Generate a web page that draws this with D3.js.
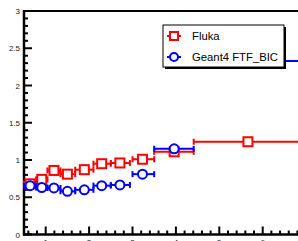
<!DOCTYPE html>
<html>
<head>
<meta charset="utf-8">
<script src="https://cdn.jsdelivr.net/npm/d3@7"></script>
<style>
  body { margin: 0; background: #fff; overflow: hidden; }
  svg { display: block; font-family: "Liberation Sans", Arial, sans-serif; }
</style>
</head>
<body>
<div id="here"></div>
<script>
// bins along x (low edge, high edge, marker position)
const binLo = [0.5, 0.78, 1.04, 1.34, 1.68, 2.1, 2.5, 3.0, 3.5, 4.41];
const binHi = [0.78, 1.04, 1.34, 1.68, 2.1, 2.5, 2.94, 3.5, 4.41, 6.9];
const binMid = [0.64, 0.91, 1.19, 1.5, 1.89, 2.29, 2.71, 3.23, 3.96, 5.66];

// series values
const fluka = [0.68, 0.74, 0.86, 0.81, 0.87, 0.95, 0.96, 1.01, 1.11, 1.245];
const geant = [0.656, 0.63, 0.625, 0.58, 0.60, 0.656, 0.665, 0.81, 1.15, 2.33];

const yTicks = [0, 0.5, 1, 1.5, 2, 2.5, 3];
const xTicks = [1, 2, 3, 4, 5, 6];

const width = 298, height = 241;

const svg = d3.select("#here")
    .append("svg")
    .attr("width", width)
    .attr("height", height);

const xScale = d3.scaleLinear()
    .domain([0.5, 7])
    .range([24, 24 + 6.5 * 43.4]);

const yScale = d3.scaleLinear()
    .domain([0, 3])
    .range([234.5, 11]);

// frame (top line, right is off-screen)
svg.append("line")
    .attr("x1", xScale(0.5)).attr("x2", xScale(7))
    .attr("y1", yScale(3)).attr("y2", yScale(3))
    .attr("stroke", "#000").attr("stroke-width", 2);

// y axis with inward ticks
const yMinor = d3.range(0, 3.001, 0.1);
svg.append("g")
    .selectAll("line")
    .data(yMinor)
    .join("line")
    .attr("x1", xScale(0.5))
    .attr("x2", function(d){
        const major = Math.abs(d * 2 - Math.round(d * 2)) < 1e-6;
        return xScale(0.5) + (major ? 8 : 4);
    })
    .attr("y1", d => yScale(d)).attr("y2", d => yScale(d))
    .attr("stroke", "#000").attr("stroke-width", 2);

svg.append("line")
    .attr("x1", xScale(0.5)).attr("x2", xScale(0.5))
    .attr("y1", yScale(0) + 1).attr("y2", yScale(3) - 1)
    .attr("stroke", "#000").attr("stroke-width", 2.5);

svg.append("g")
    .selectAll("text")
    .data(yTicks)
    .join("text")
    .attr("x", 20)
    .attr("y", d => yScale(d) + 3)
    .attr("text-anchor", "end")
    .attr("font-size", 8)
    .attr("fill", "#222")
    .text(d => d);

// x axis with inward ticks
const xMinor = d3.range(0.6, 7.001, 0.2);
svg.append("g")
    .selectAll("line")
    .data(xMinor)
    .join("line")
    .attr("x1", d => xScale(d)).attr("x2", d => xScale(d))
    .attr("y1", yScale(0))
    .attr("y2", function(d){
        const major = Math.abs(d - Math.round(d)) < 1e-6;
        return yScale(0) - (major ? 8 : 4);
    })
    .attr("stroke", "#000").attr("stroke-width", 2);

svg.append("line")
    .attr("x1", xScale(0.5) - 1).attr("x2", xScale(7))
    .attr("y1", yScale(0)).attr("y2", yScale(0))
    .attr("stroke", "#000").attr("stroke-width", 2.5);

// x tick labels sit mostly below the picture edge, as in the original
svg.append("g")
    .selectAll("text")
    .data(xTicks)
    .join("text")
    .attr("x", d => xScale(d))
    .attr("y", 244.5)
    .attr("text-anchor", "middle")
    .attr("font-size", 8)
    .attr("fill", "#222")
    .text(d => d);

// draw one series: error bars + markers
function drawSeries(vals, color, shape) {
    const g = svg.append("g");
    vals.forEach(function(v, i){
        const y = yScale(v);
        g.append("line")
            .attr("x1", xScale(binLo[i])).attr("x2", xScale(binHi[i]))
            .attr("y1", y).attr("y2", y)
            .attr("stroke", color).attr("stroke-width", 2);
        [binLo[i], binHi[i]].forEach(function(e){
            g.append("line")
                .attr("x1", xScale(e)).attr("x2", xScale(e))
                .attr("y1", y - 3).attr("y2", y + 3)
                .attr("stroke", color).attr("stroke-width", 2);
        });
        if (shape === "square") {
            g.append("rect")
                .attr("x", xScale(binMid[i]) - 4.5).attr("y", y - 4.5)
                .attr("width", 9).attr("height", 9)
                .attr("fill", "#fff")
                .attr("stroke", color).attr("stroke-width", 2);
        } else {
            g.append("circle")
                .attr("cx", xScale(binMid[i])).attr("cy", y)
                .attr("r", 4.5)
                .attr("fill", "#fff")
                .attr("stroke", color).attr("stroke-width", 2);
        }
    });
}

drawSeries(fluka, "#ff0000", "square");
drawSeries(geant, "#0000ff", "circle");

// legend
const legend = svg.append("g");
legend.append("rect")
    .attr("x", 165).attr("y", 27).attr("width", 121).attr("height", 42)
    .attr("fill", "#000");
legend.append("rect")
    .attr("x", 163).attr("y", 25).attr("width", 121).attr("height", 42)
    .attr("fill", "#fff").attr("stroke", "#000").attr("stroke-width", 1);

const entries = [
    { name: "Fluka", color: "#ff0000", shape: "square", y: 36 },
    { name: "Geant4 FTF_BIC", color: "#0000ff", shape: "circle", y: 57 }
];
entries.forEach(function(d){
    legend.append("line")
        .attr("x1", 167).attr("x2", 181)
        .attr("y1", d.y).attr("y2", d.y)
        .attr("stroke", d.color).attr("stroke-width", 2);
    if (d.shape === "square") {
        legend.append("rect")
            .attr("x", 170).attr("y", d.y - 4).attr("width", 8).attr("height", 8)
            .attr("fill", "#fff").attr("stroke", d.color).attr("stroke-width", 2);
    } else {
        legend.append("circle")
            .attr("cx", 174).attr("cy", d.y).attr("r", 4)
            .attr("fill", "#fff").attr("stroke", d.color).attr("stroke-width", 2);
    }
    legend.append("text")
        .attr("x", 192).attr("y", d.y + 4)
        .attr("font-size", 11.3)
        .attr("fill", "#000")
        .text(d.name);
});
</script>
</body>
</html>
